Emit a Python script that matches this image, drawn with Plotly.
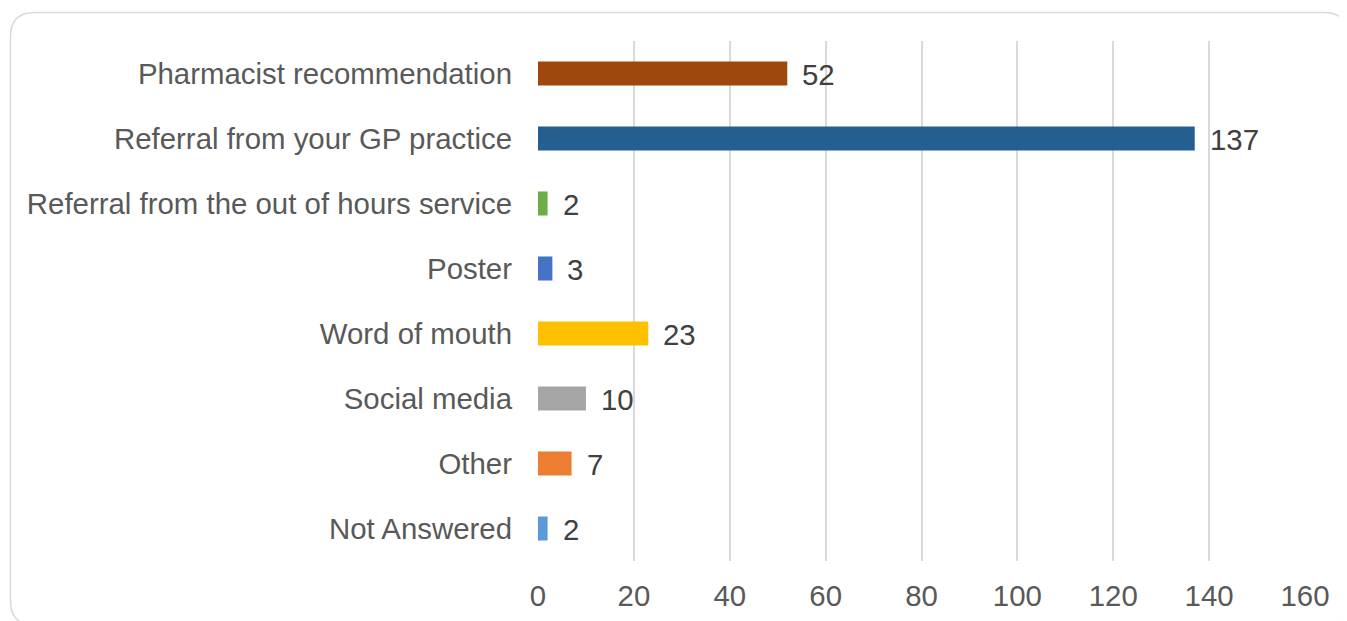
import plotly.graph_objects as go

categories = ["Pharmacist recommendation", "Referral from your GP practice",
              "Referral from the out of hours service", "Poster", "Word of mouth",
              "Social media", "Other", "Not Answered"]
values = [52, 137, 2, 3, 23, 10, 7, 2]
colors = ["#9E480E", "#255E91", "#70AD47", "#4472C4", "#FFC000", "#A5A5A5", "#ED7D31", "#5B9BD5"]
x_ticks = [0, 20, 40, 60, 80, 100, 120, 140, 160]

W, H = 1347, 621
L, R, T, B = 530, 50, 33, 68
PW, PH = W - L - R, H - T - B

FONT = "Liberation Sans, Arial, sans-serif"
FS = 29.4

fig = go.Figure()
fig.add_trace(go.Bar(
    y=categories, x=values, orientation="h",
    marker=dict(color=colors, line=dict(width=0)),
    width=0.37, hoverinfo="skip",
))

for c, v in zip(categories, values):
    fig.add_annotation(x=v, y=c, text=str(v), showarrow=False, xanchor="left",
                       xshift=13, yshift=-1, font=dict(family=FONT, size=FS, color="#404040"))

def px2paper(px, py):
    return (px - L) / PW, 1 - (py - T) / PH

x0, y0, x1, y1, r = 2.5, 4.5, 1340, 617, 24
pts = [
    ("M", [(x0 + r, y0)]),
    ("L", [(x1 - r, y0)]),
    ("Q", [(x1, y0), (x1, y0 + r)]),
    ("L", [(x1, y1 - r)]),
    ("Q", [(x1, y1), (x1 - r, y1)]),
    ("L", [(x0 + r, y1)]),
    ("Q", [(x0, y1), (x0, y1 - r)]),
    ("L", [(x0, y0 + r)]),
    ("Q", [(x0, y0), (x0 + r, y0)]),
]
path = ""
for cmd, ps in pts:
    path += cmd + " ".join("%.5f,%.5f" % px2paper(a, b) for a, b in ps) + " "
path += "Z"
fig.add_shape(type="path", path=path, xref="paper", yref="paper",
              line=dict(color="#D9D9D9", width=1.5), layer="below")

fig.update_layout(
    width=W, height=H,
    margin=dict(l=L, r=R, t=T, b=B),
    paper_bgcolor="white", plot_bgcolor="white",
    showlegend=False, bargap=0.63,
    font=dict(family=FONT, size=FS, color="#595959"),
    xaxis=dict(range=[0, 160], tickvals=x_ticks, showgrid=True, gridcolor="#D9D9D9",
               gridwidth=2, zeroline=False, showline=False, ticks="",
               tickfont=dict(size=FS, color="#595959"), ticklabelstandoff=15,
               fixedrange=True),
    yaxis=dict(categoryorder="array", categoryarray=categories[::-1],
               range=[-0.5, 7.5], showgrid=False, zeroline=False, showline=False,
               ticks="", tickfont=dict(size=FS, color="#595959"), ticklabelstandoff=25,
               fixedrange=True),
)

fig.write_html("out.html")
